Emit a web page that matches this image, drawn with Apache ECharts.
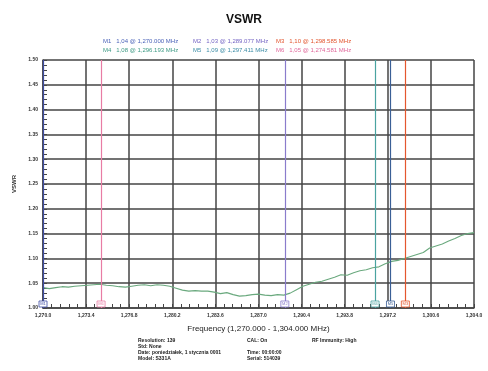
<!DOCTYPE html>
<html>
<head>
<meta charset="utf-8">
<script src="https://cdn.jsdelivr.net/npm/echarts@6/dist/echarts.min.js"></script>
<style>
  html, body { margin: 0; padding: 0; background: #fff; }
  #chart { width: 488px; height: 371px; }
</style>
</head>
<body>
<div id="chart"></div>
<script>
// sweep data (MHz / VSWR)
const freqs = [
  1270.0, 1270.5, 1271.0, 1271.5, 1272.0, 1272.5, 1273.0, 1273.5, 1274.0, 1274.5,
  1275.0, 1275.5, 1276.0, 1276.5, 1277.0, 1277.5, 1278.0, 1278.5, 1279.0, 1279.5,
  1280.0, 1280.5, 1281.0, 1281.5, 1282.0, 1282.5, 1283.0, 1283.5, 1284.0, 1284.5,
  1285.0, 1285.5, 1286.0, 1286.5, 1287.0, 1287.5, 1288.0, 1288.5, 1289.0, 1289.5,
  1290.0, 1290.5, 1291.0, 1291.5, 1292.0, 1292.5, 1293.0, 1293.5, 1294.0, 1294.5,
  1295.0, 1295.5, 1296.0, 1296.5, 1297.0, 1297.5, 1298.0, 1298.5, 1299.0, 1299.5,
  1300.0, 1300.5, 1301.0, 1301.5, 1302.0, 1302.5, 1303.0, 1303.5, 1304.0
]
const vswr = [
  1.041, 1.039, 1.041, 1.043, 1.042, 1.044, 1.045, 1.046, 1.047, 1.048,
  1.046, 1.045, 1.043, 1.042, 1.044, 1.046, 1.047, 1.045, 1.047, 1.046,
  1.044, 1.040, 1.036, 1.034, 1.035, 1.034, 1.034, 1.032, 1.029, 1.031,
  1.027, 1.024, 1.025, 1.027, 1.028, 1.026, 1.025, 1.027, 1.026, 1.030,
  1.037, 1.044, 1.048, 1.052, 1.054, 1.058, 1.062, 1.067, 1.066, 1.071,
  1.075, 1.077, 1.081, 1.083, 1.089, 1.094, 1.096, 1.100, 1.104, 1.108,
  1.112, 1.121, 1.125, 1.129, 1.135, 1.140, 1.146, 1.150, 1.152
]

// markers
const markerNames = ['M1', 'M2', 'M3', 'M4', 'M5', 'M6']
const markerVswr = ['1,04', '1,03', '1,10', '1,08', '1,09', '1,05']
const markerFreqs = [1270.000, 1289.077, 1298.585, 1296.193, 1297.411, 1274.581]
const markerColors = ['#3f4ea6', '#8a7ccc', '#e4572e', '#4aa3a0', '#3a5f96', '#e87ca4']
const legendColors = ['#4a62b8', '#7464c4', '#e2542c', '#3d9a84', '#3b8ca6', '#e0679a']

const fStart = 1270.0
const fStop = 1304.0
const fStep = 3.4

const infoLeft = ['Resolution: 139', 'Std: None', 'Date: poniedziałek, 1 stycznia 0001', 'Model: S331A']
const infoMid = ['CAL: On', '', 'Time: 00:00:00', 'Serial: 514039']
const infoRight = ['RF Immunity: High', '', '', '']

function fmtFreq(f, d) {
  const th = Math.floor(f / 1000)
  let rest = (f - th * 1000).toFixed(d)
  while (rest.split('.')[0].length < 3) rest = '0' + rest
  return th + ',' + rest
}

const chart = echarts.init(document.getElementById('chart'))

const graphics = []
markerNames.forEach((m, i) => {
  const col = i % 3
  const row = Math.floor(i / 3)
  graphics.push({
    type: 'text',
    left: [103, 193, 276][col],
    top: [38, 47][row],
    style: {
      text: m + '   ' + markerVswr[i] + ' @ ' + fmtFreq(markerFreqs[i], 3) + ' MHz',
      fill: legendColors[i],
      font: '6px "Liberation Sans", Arial, sans-serif'
    }
  })
})
const infoCols = [[infoLeft, 138], [infoMid, 247], [infoRight, 312]]
infoCols.forEach(([lines, x]) => {
  lines.forEach((t, k) => {
    if (!t) return
    graphics.push({
      type: 'text',
      left: x,
      top: 338 + k * 6,
      style: { text: t, fill: '#222', font: 'bold 5px "Liberation Sans", Arial, sans-serif' }
    })
  })
})

const option = {
  backgroundColor: '#fff',
  animation: false,
  title: {
    text: 'VSWR',
    left: 'center',
    top: 9,
    textStyle: { fontSize: 12, fontWeight: 'bold', color: '#111', fontFamily: 'Liberation Sans' }
  },
  graphic: graphics,
  grid: { left: 43, right: 14, top: 60, bottom: 63 },
  xAxis: {
    type: 'value',
    min: 0,
    max: fStop - fStart,
    interval: fStep,
    name: 'Frequency (' + fmtFreq(fStart, 3) + ' - ' + fmtFreq(fStop, 3) + ' MHz)',
    nameLocation: 'middle',
    nameGap: 17,
    nameTextStyle: { fontSize: 8, color: '#222', fontFamily: 'Liberation Sans' },
    axisLine: { lineStyle: { color: '#444', width: 1.5 } },
    axisTick: { inside: true, length: 4, lineStyle: { color: '#444' } },
    minorTick: { show: true, splitNumber: 5, length: 4, lineStyle: { color: '#444', width: 1 } },
    axisLabel: {
      fontSize: 5, color: '#333', fontWeight: 'bold', margin: 5,
      formatter: v => fmtFreq(fStart + v, 1)
    },
    splitLine: { show: true, lineStyle: { color: '#444', width: 1.5 } }
  },
  yAxis: {
    type: 'value',
    min: 1.0,
    max: 1.5,
    interval: 0.05,
    name: 'VSWR',
    nameLocation: 'middle',
    nameRotate: 90,
    nameGap: 22,
    nameTextStyle: { fontSize: 6, color: '#333', fontWeight: 'bold', fontFamily: 'Liberation Sans' },
    axisLine: { show: true, lineStyle: { color: '#444', width: 1.5 } },
    axisTick: { show: true, inside: true, length: 4, lineStyle: { color: '#444' } },
    minorTick: { show: true, splitNumber: 5, length: 4, lineStyle: { color: '#444', width: 1 } },
    axisLabel: {
      fontSize: 5, color: '#333', fontWeight: 'bold', margin: 5,
      formatter: v => v.toFixed(2)
    },
    splitLine: { show: true, lineStyle: { color: '#444', width: 1.5 } }
  },
  series: [{
    type: 'line',
    data: freqs.map((f, i) => [f - fStart, vswr[i]]),
    showSymbol: false,
    lineStyle: { color: '#6aa97e', width: 1.1 },
    markLine: {
      silent: true,
      symbol: 'none',
      label: { show: false },
      data: markerFreqs.map((f, i) => ({
        xAxis: f - fStart,
        lineStyle: { color: markerColors[i], width: 1.2, type: 'solid' }
      }))
    },
    markPoint: {
      silent: true,
      symbol: 'rect',
      symbolSize: [8, 6],
      symbolOffset: [0, -4],
      data: markerFreqs.map((f, i) => ({
        coord: [f - fStart, 1.0],
        itemStyle: { color: '#fff', borderColor: markerColors[i], borderWidth: 0.8 },
        label: { show: true, position: 'inside', formatter: markerNames[i], fontSize: 4, color: markerColors[i] }
      }))
    }
  }]
}

chart.setOption(option)
</script>
</body>
</html>
